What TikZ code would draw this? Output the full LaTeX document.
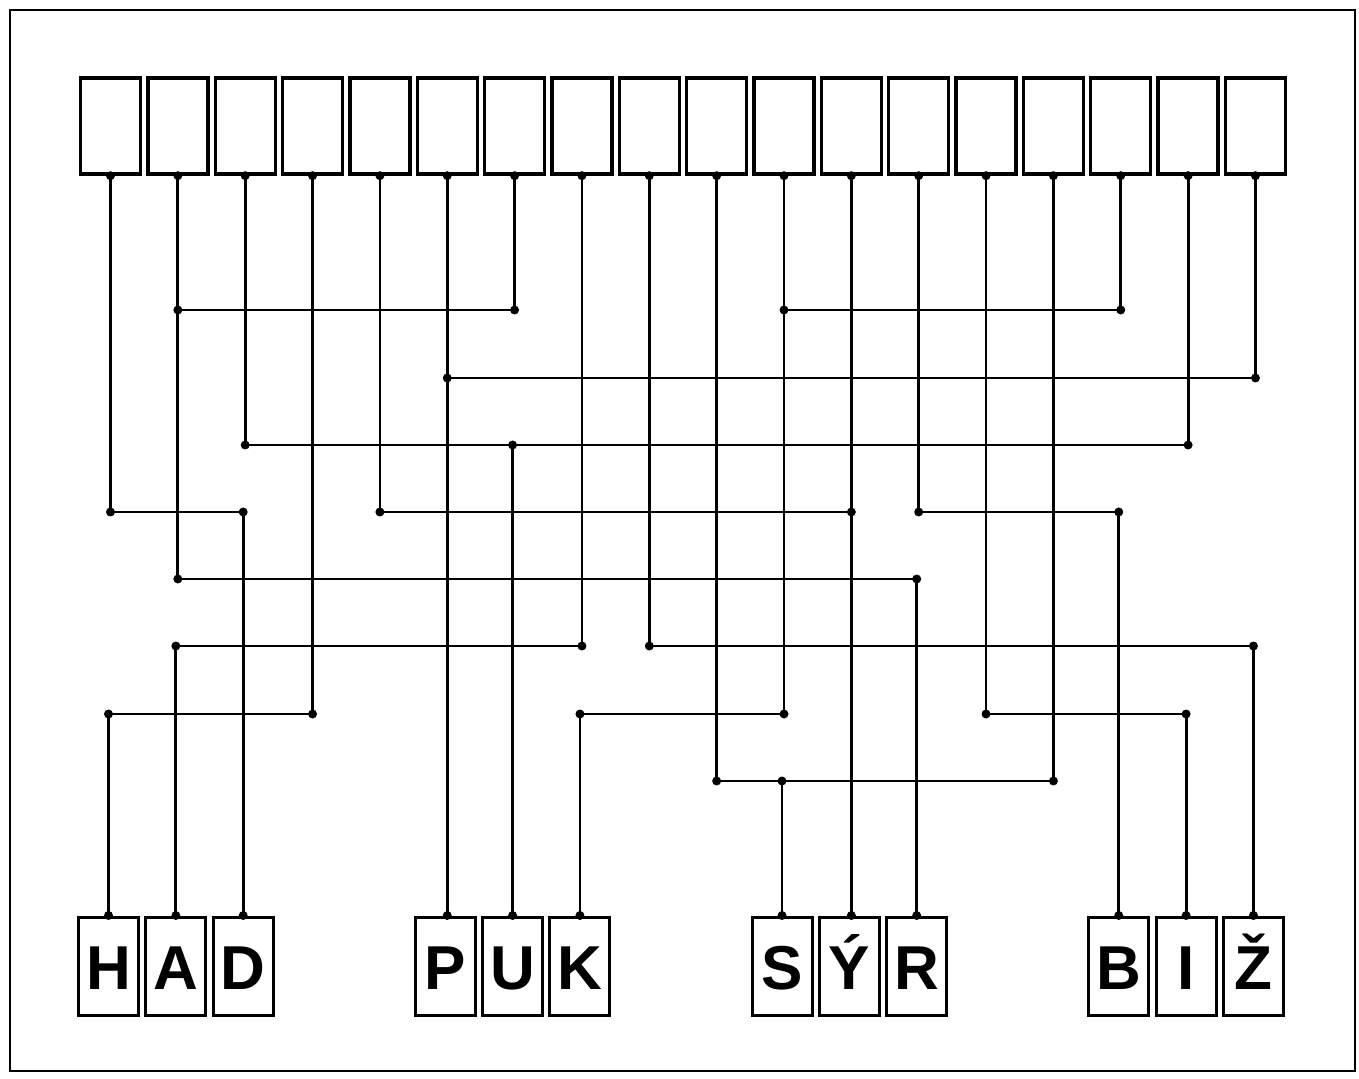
\documentclass[tikz,border=0pt]{standalone}
\usepackage{fontspec}
\setmainfont{Liberation Sans}
\begin{document}
\begin{tikzpicture}[x=0.5pt,y=-0.5pt,
  wire/.style={line width=1.4pt},
  frame/.style={line width=1pt},
  topbox/.style={draw,line width=1.7pt,minimum width=30pt,minimum height=48pt,inner sep=0pt},
  letbox/.style={draw,line width=1.5pt,minimum width=30pt,minimum height=49pt,inner sep=0pt,
    text height=23pt,text depth=0pt,font=\fontsize{31}{31}\selectfont\bfseries},
  jdot/.style={circle,fill,inner sep=0pt,minimum size=4.5pt}]
\useasboundingbox (0,0) rectangle (1359,1079);
\fill[white] (0,0) rectangle (1359,1079);
\draw[frame] (10,10) rectangle (1355,1071);
% top boxes
\foreach \i in {1,...,18}
  \node[topbox] (t\i) at ({110.5+67.35*(\i-1)},126) {};
% letter boxes
\foreach \k/\n/\l in {0/H/H,1/A/A,2/D/D,5/P/P,6/U/U,7/K/K,10/S/S,11/Y/Ý,12/R/R,15/B/B,16/I/I,17/Z/Ž}
  \node[letbox] (\n) at ({108.5+67.35*\k},966) {\l};
% levels
\coordinate (L1) at (0,310);
\coordinate (L2) at (0,378);
\coordinate (L3) at (0,445);
\coordinate (L4) at (0,512);
\coordinate (L5) at (0,579);
\coordinate (L6) at (0,646);
\coordinate (L7) at (0,714);
\coordinate (L8) at (0,781);
% routes
\draw[wire] (t1.south) node[jdot]{} -- (t1.south |- L4) node[jdot]{} -- (D.north |- L4) node[jdot]{} -- (D.north) node[jdot]{};
\draw[wire] (t2.south) node[jdot]{} -- (t2.south |- L5) node[jdot]{} -- (R.north |- L5) node[jdot]{} -- (R.north) node[jdot]{};
\draw[wire] (t3.south) node[jdot]{} -- (t3.south |- L3) node[jdot]{} -- (t17.south |- L3) node[jdot]{} -- (t17.south) node[jdot]{};
\draw[wire] (t4.south) node[jdot]{} -- (t4.south |- L7) node[jdot]{} -- (H.north |- L7) node[jdot]{} -- (H.north) node[jdot]{};
\draw[wire] (t5.south) node[jdot]{} -- (t5.south |- L4) node[jdot]{} -- (t12.south |- L4) node[jdot]{};
\draw[wire] (t6.south) node[jdot]{} -- (t6.south |- P.north) node[jdot]{};
\draw[wire] (t7.south) node[jdot]{} -- (t7.south |- L1) node[jdot]{} -- (t2.south |- L1) node[jdot]{};
\draw[wire] (t8.south) node[jdot]{} -- (t8.south |- L6) node[jdot]{} -- (A.north |- L6) node[jdot]{} -- (A.north) node[jdot]{};
\draw[wire] (t9.south) node[jdot]{} -- (t9.south |- L6) node[jdot]{} -- (Z.north |- L6) node[jdot]{} -- (Z.north) node[jdot]{};
\draw[wire] (t10.south) node[jdot]{} -- (t10.south |- L8) node[jdot]{} -- (t15.south |- L8) node[jdot]{} -- (t15.south) node[jdot]{};
\draw[wire] (t11.south) node[jdot]{} -- (t11.south |- L7) node[jdot]{} -- (K.north |- L7) node[jdot]{} -- (K.north) node[jdot]{};
\draw[wire] (t12.south) node[jdot]{} -- (t12.south |- Y.north) node[jdot]{};
\draw[wire] (t13.south) node[jdot]{} -- (t13.south |- L4) node[jdot]{} -- (B.north |- L4) node[jdot]{} -- (B.north) node[jdot]{};
\draw[wire] (t14.south) node[jdot]{} -- (t14.south |- L7) node[jdot]{} -- (I.north |- L7) node[jdot]{} -- (I.north) node[jdot]{};
\draw[wire] (t16.south) node[jdot]{} -- (t16.south |- L1) node[jdot]{} -- (t11.south |- L1) node[jdot]{};
\draw[wire] (t18.south) node[jdot]{} -- (t18.south |- L2) node[jdot]{} -- (t6.south |- L2) node[jdot]{};
\draw[wire] (U.north |- L3) node[jdot]{} -- (U.north) node[jdot]{};
\draw[wire] (S.north |- L8) node[jdot]{} -- (S.north) node[jdot]{};
\end{tikzpicture}
\end{document}
